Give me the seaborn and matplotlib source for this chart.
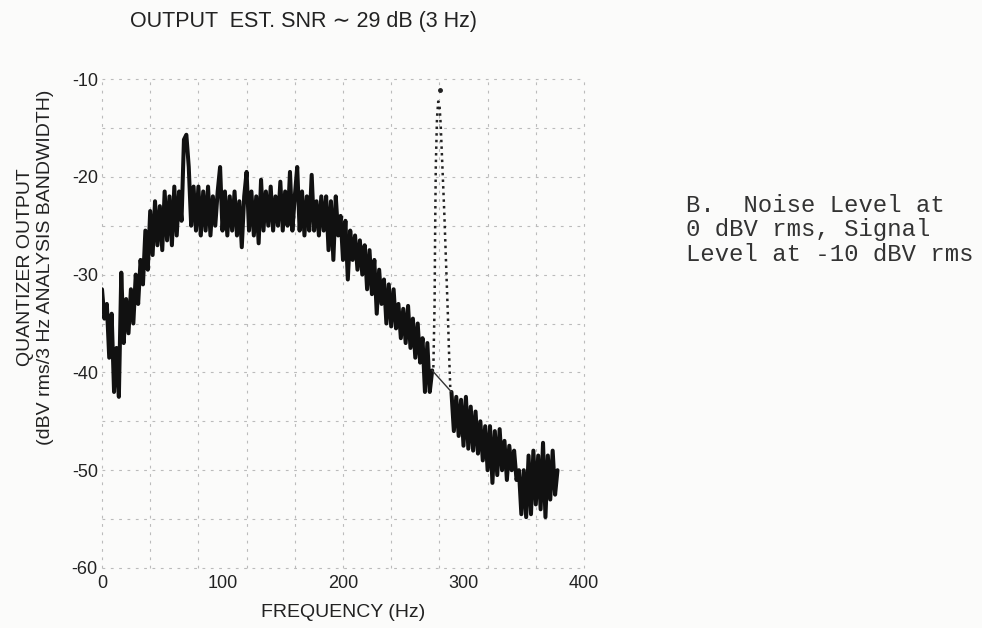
import numpy as np
import pandas as pd
import matplotlib
matplotlib.use("Agg")
import matplotlib.pyplot as plt
import seaborn as sns

# Espectro de ruido (Hz, dBV rms/3 Hz), trazo en zig-zag
frec_a = list(range(0, 276, 2))
nivel_a = [
    -31.5, -34.5, -33.0, -38.5, -34.0, -42.0, -37.5, -42.5, -29.8, -37.0,
    -32.5, -36.0, -31.5, -35.0, -30.0, -33.0, -28.5, -31.0, -25.5, -29.5,
    -23.5, -28.0, -22.5, -27.0, -23.0, -27.5, -21.5, -26.5, -22.0, -27.0,
    -21.0, -26.0, -21.5, -24.5, -16.2, -15.7, -19.0, -25.0, -21.0, -25.5,
    -21.0, -26.0, -21.5, -25.5, -21.0, -26.0, -22.0, -25.0, -21.5, -19.0,
    -25.5, -21.5, -26.0, -22.0, -25.5, -21.5, -26.0, -22.5, -27.2, -22.0,
    -19.5, -25.5, -21.5, -26.0, -22.0, -26.8, -20.3, -25.5, -21.5, -25.0,
    -21.0, -25.5, -22.0, -25.0, -20.5, -25.5, -21.5, -25.0, -19.5, -25.5,
    -22.0, -19.0, -25.5, -21.5, -26.0, -22.0, -25.5, -19.8, -25.5, -22.5,
    -26.0, -22.0, -25.5, -22.0, -27.5, -22.5, -28.5, -22.0, -26.0, -24.0,
    -28.5, -24.5, -30.5, -25.5, -28.5, -26.0, -29.5, -26.5, -30.0, -27.0,
    -31.5, -27.5, -32.0, -28.5, -34.0, -29.5, -33.0, -30.5, -35.0, -31.0,
    -35.3, -31.5, -35.5, -33.0, -36.5, -33.5, -37.0, -33.2, -37.5, -34.5,
    -38.5, -35.0, -39.0, -36.5, -42.0, -37.0, -42.0, -39.8,
]
frec_b = list(range(290, 380, 2))
nivel_b = [
    -42.0, -46.0, -42.5, -46.5, -42.8,
    -47.5, -42.5, -47.8, -43.5, -48.0, -44.0, -48.3, -45.0, -49.0, -45.5,
    -50.0, -45.5, -51.3, -46.0, -50.5, -45.8, -50.0, -47.0, -51.0, -47.5,
    -50.0, -48.0, -51.0, -50.0, -54.5, -50.0, -54.8, -48.5, -54.5, -48.0,
    -53.5, -48.5, -54.0, -47.2, -54.8, -48.5, -53.0, -48.0, -52.5, -50.0,
]

# Senal (pico punteado) alrededor de 280 Hz
frec_senal = [275, 276, 276.5, 277, 278, 279, 280, 281, 282, 283, 284, 285, 286, 287, 288, 289]
nivel_senal = [-39.5, -33.0, -25.0, -19.0, -14.0, -12.3, -12.5, -14.5, -17.5, -20.5,
               -23.5, -27.0, -30.5, -34.0, -38.0, -41.5]
pico_frec = [280.5]
pico_nivel = [-11.1]

x_ticks = [0, 100, 200, 300, 400]
y_ticks = [-10, -20, -30, -40, -50, -60]
x_grid = list(range(0, 401, 40))
y_grid = list(range(-60, -9, 5))

df_a = pd.DataFrame({"Frecuencia": frec_a, "Nivel": nivel_a})
df_b = pd.DataFrame({"Frecuencia": frec_b, "Nivel": nivel_b})
# tramo recto fino que une los dos bloques de ruido bajo el pico
df_union = pd.DataFrame({"Frecuencia": [frec_a[-1], frec_b[0]], "Nivel": [nivel_a[-1], nivel_b[0]]})
df_senal = pd.DataFrame({"Frecuencia": frec_senal, "Nivel": nivel_senal})

sns.set_theme(style="white")
plt.rcParams["font.family"] = ["Liberation Sans", "DejaVu Sans"]
plt.rcParams["axes.unicode_minus"] = False

fig = plt.figure(figsize=(9.82, 6.28), dpi=100)
fig.patch.set_facecolor("#fbfbfa")
ax = fig.add_axes([102 / 982, 1 - 568 / 628, 482 / 982, 489 / 628])
ax.set_facecolor("#fbfbfa")

# cuadricula punteada (cada 40 Hz y 5 dB)
for gx in x_grid:
    ax.axvline(gx, color="#bbbbbb", linestyle=(0, (2.5, 5)), lw=0.8, zorder=0, clip_on=False)
for gy in y_grid:
    ax.axhline(gy, color="#bbbbbb", linestyle=(0, (2.5, 5)), lw=0.8, zorder=0, clip_on=False)

for d in (df_a, df_b):
    sns.lineplot(data=d, x="Frecuencia", y="Nivel", estimator=None, sort=False,
                 color="#111111", lw=2.9, ax=ax)
sns.lineplot(data=df_union, x="Frecuencia", y="Nivel", estimator=None, sort=False,
             color="#333333", lw=1.0, ax=ax)
sns.lineplot(data=df_senal, x="Frecuencia", y="Nivel", estimator=None, sort=False,
             color="#222222", lw=1.8, linestyle=":", ax=ax)
ax.plot(pico_frec, pico_nivel, "o", color="#222222", ms=2.5, clip_on=False)

ax.set_xlim(0, 400)
ax.set_ylim(-60, -10)
ax.set_xticks(x_ticks)
ax.set_yticks(y_ticks)
ax.grid(False)
ax.tick_params(which="both", length=0, labelsize=13, colors="#222222")
ax.tick_params(axis="x", pad=5)
ax.tick_params(axis="y", pad=3)
for s in ax.spines.values():
    s.set_visible(False)

ax.set_xlabel("FREQUENCY (Hz)", fontsize=14, color="#222222", labelpad=9)
ax.set_ylabel("QUANTIZER OUTPUT\n(dBV rms/3 Hz ANALYSIS BANDWIDTH)", fontsize=14,
              color="#222222", linespacing=1.25)
ax.yaxis.set_label_coords(-0.1, 0.615)

fig.text(304 / 982, 1 - 22 / 628, "OUTPUT  EST. SNR \u223c 29 dB (3 Hz)", fontsize=15.5,
         ha="center", va="center", color="#222222")
fig.text(686 / 982, 1 - 194 / 628, "B.  Noise Level at\n0 dBV rms, Signal\nLevel at -10 dBV rms",
         family=["Liberation Mono", "DejaVu Sans Mono"], fontsize=17.2, ha="left", va="top",
         linespacing=1.08, color="#333333")

fig.savefig("out.png", dpi=100, facecolor=fig.get_facecolor())
